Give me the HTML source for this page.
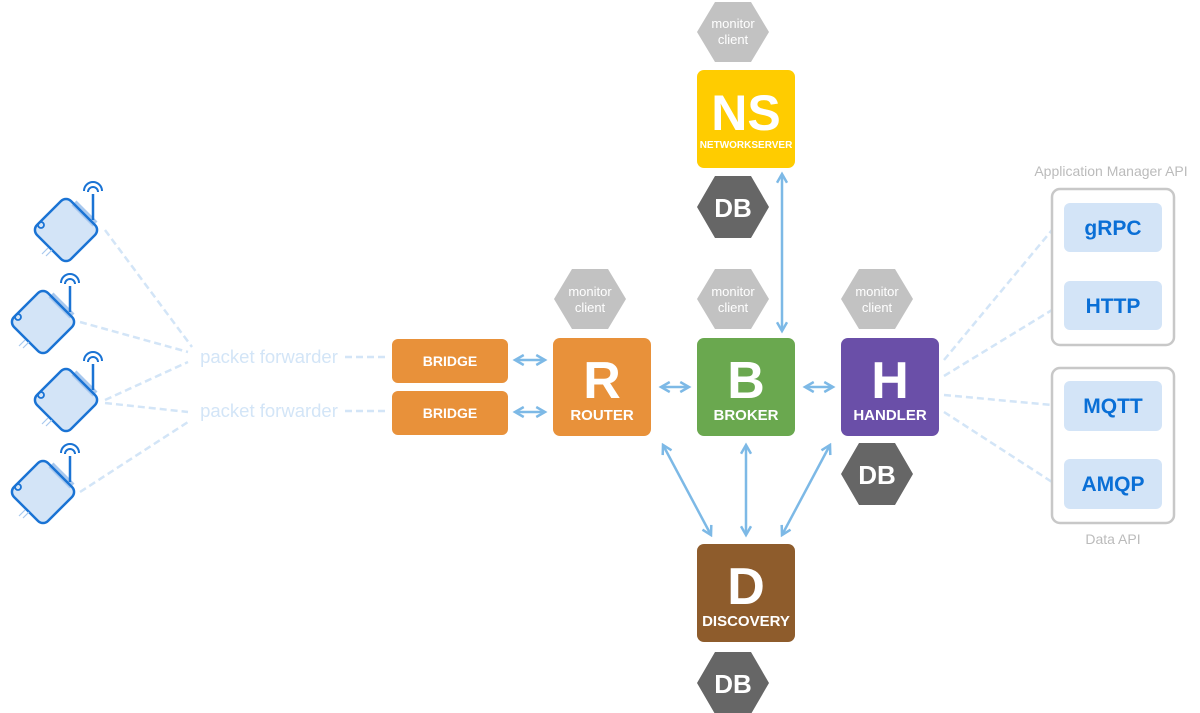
<!DOCTYPE html>
<html><head><meta charset="utf-8"><style>
html,body{margin:0;padding:0;background:#fff;}
svg{display:block;font-family:"Liberation Sans",sans-serif;}
.t{font-weight:bold;fill:#fff;text-anchor:middle;}
.m{fill:#fff;font-size:13px;text-anchor:middle;}
.db{fill:#fff;font-size:26px;font-weight:bold;text-anchor:middle;}
.ar{stroke:#7db9e6;stroke-width:2.5;fill:none;}
.ds{stroke:#d3e5f7;stroke-width:2.5;stroke-dasharray:7 4;fill:none;}
.api{fill:#0a6fd6;font-weight:bold;font-size:21px;text-anchor:middle;}
</style></head><body>
<svg width="1200" height="713" viewBox="0 0 1200 713">
<defs>
<marker id="a" viewBox="0 0 10 10" refX="8" refY="5" markerWidth="5" markerHeight="5" orient="auto-start-reverse"><path d="M1,1 L8,5 L1,9" stroke="#7db9e6" stroke-width="2" fill="none"/></marker>
<g id="gw">
<rect x="-24" y="-24" width="48" height="48" rx="7" transform="rotate(45)" fill="#d3e4f7"/>
<path d="M8,-27 L29,-6" stroke="#a8c8ee" stroke-width="7"/>
<rect x="-24" y="-24" width="48" height="48" rx="7" transform="rotate(45)" fill="none" stroke="#1a73d4" stroke-width="2.5"/>
<line x1="27" y1="-10" x2="27" y2="-36" stroke="#1a73d4" stroke-width="2.5"/>
<path d="M22,-38 a5,5 0 0 1 10,0 M18,-39 a9,9 0 0 1 18,0" stroke="#1a73d4" stroke-width="2" fill="none"/>
<circle cx="-25" cy="-5" r="3" fill="none" stroke="#1a73d4" stroke-width="1.8"/>
<path d="M-18,18 l-6,6 M-14,20 l-6,6" stroke="#a8c8ee" stroke-width="1.2"/>
</g>
</defs>

<path class="ds" d="M105,230 L192,347 M80,322 L188,352 M105,400 L188,362 M105,403 L188,412 M80,492 L188,422 M345,357 L388,357 M345,411 L388,411"/>
<text x="269" y="363" font-size="18.5" fill="#d3e5f7" text-anchor="middle">packet forwarder</text>
<text x="269" y="417" font-size="18.5" fill="#d3e5f7" text-anchor="middle">packet forwarder</text>

<use href="#gw" x="66" y="230"/>
<use href="#gw" x="43" y="322"/>
<use href="#gw" x="66" y="400"/>
<use href="#gw" x="43" y="492"/>

<rect x="392" y="339" width="116" height="44" rx="6" fill="#e8913a"/>
<rect x="392" y="391" width="116" height="44" rx="6" fill="#e8913a"/>
<text class="t" x="450" y="366" font-size="14">BRIDGE</text>
<text class="t" x="450" y="418" font-size="14">BRIDGE</text>

<line class="ar" x1="515" y1="360" x2="545" y2="360" marker-start="url(#a)" marker-end="url(#a)"/>
<line class="ar" x1="515" y1="412" x2="545" y2="412" marker-start="url(#a)" marker-end="url(#a)"/>
<line class="ar" x1="661" y1="387" x2="689" y2="387" marker-start="url(#a)" marker-end="url(#a)"/>
<line class="ar" x1="805" y1="387" x2="833" y2="387" marker-start="url(#a)" marker-end="url(#a)"/>
<line class="ar" x1="782" y1="174" x2="782" y2="331" marker-start="url(#a)" marker-end="url(#a)"/>
<line class="ar" x1="663" y1="445" x2="711" y2="535" marker-start="url(#a)" marker-end="url(#a)"/>
<line class="ar" x1="746" y1="445" x2="746" y2="535" marker-start="url(#a)" marker-end="url(#a)"/>
<line class="ar" x1="830" y1="445" x2="782" y2="535" marker-start="url(#a)" marker-end="url(#a)"/>

<g fill="#c2c2c2">
<polygon points="697,32 715,2 751,2 769,32 751,62 715,62"/>
<polygon points="554,299 572,269 608,269 626,299 608,329 572,329"/>
<polygon points="697,299 715,269 751,269 769,299 751,329 715,329"/>
<polygon points="841,299 859,269 895,269 913,299 895,329 859,329"/>
</g>
<text class="m" x="733" y="28">monitor</text><text class="m" x="733" y="44">client</text>
<text class="m" x="590" y="296">monitor</text><text class="m" x="590" y="312">client</text>
<text class="m" x="733" y="296">monitor</text><text class="m" x="733" y="312">client</text>
<text class="m" x="877" y="296">monitor</text><text class="m" x="877" y="312">client</text>

<g fill="#666">
<polygon points="697,207 715,176 751,176 769,207 751,238 715,238"/>
<polygon points="841,474 859,443 895,443 913,474 895,505 859,505"/>
<polygon points="697,683 715,652 751,652 769,683 751,714 715,714"/>
</g>
<text class="db" x="733" y="217">DB</text>
<text class="db" x="877" y="484">DB</text>
<text class="db" x="733" y="693">DB</text>

<rect x="697" y="70" width="98" height="98" rx="7" fill="#ffcc00"/>
<text class="t" x="746" y="130" font-size="50">NS</text>
<text class="t" x="746" y="148" font-size="10">NETWORKSERVER</text>

<rect x="553" y="338" width="98" height="98" rx="7" fill="#e8913a"/>
<text class="t" x="602" y="398" font-size="52">R</text>
<text class="t" x="602" y="420" font-size="15">ROUTER</text>

<rect x="697" y="338" width="98" height="98" rx="7" fill="#6aa84f"/>
<text class="t" x="746" y="398" font-size="52">B</text>
<text class="t" x="746" y="420" font-size="15">BROKER</text>

<rect x="841" y="338" width="98" height="98" rx="7" fill="#6a4fa8"/>
<text class="t" x="890" y="398" font-size="52">H</text>
<text class="t" x="890" y="420" font-size="15">HANDLER</text>

<rect x="697" y="544" width="98" height="98" rx="7" fill="#8e5c2c"/>
<text class="t" x="746" y="604" font-size="52">D</text>
<text class="t" x="746" y="626" font-size="15">DISCOVERY</text>

<path class="ds" d="M944,360 L1052,230 M944,376 L1052,310 M944,395 L1052,405 M944,412 L1052,482"/>
<text x="1111" y="176" font-size="14" fill="#bbb" text-anchor="middle">Application Manager API</text>
<text x="1113" y="544" font-size="14" fill="#bbb" text-anchor="middle">Data API</text>
<rect x="1052" y="189" width="122" height="156" rx="8" fill="#fff" stroke="#c8c8c8" stroke-width="2.5"/>
<rect x="1052" y="368" width="122" height="155" rx="8" fill="#fff" stroke="#c8c8c8" stroke-width="2.5"/>
<g fill="#d3e4f7">
<rect x="1064" y="203" width="98" height="49" rx="6"/>
<rect x="1064" y="281" width="98" height="49" rx="6"/>
<rect x="1064" y="381" width="98" height="50" rx="6"/>
<rect x="1064" y="459" width="98" height="50" rx="6"/>
</g>
<text class="api" x="1113" y="235">gRPC</text>
<text class="api" x="1113" y="313">HTTP</text>
<text class="api" x="1113" y="413">MQTT</text>
<text class="api" x="1113" y="491">AMQP</text>
</svg>
</body></html>
